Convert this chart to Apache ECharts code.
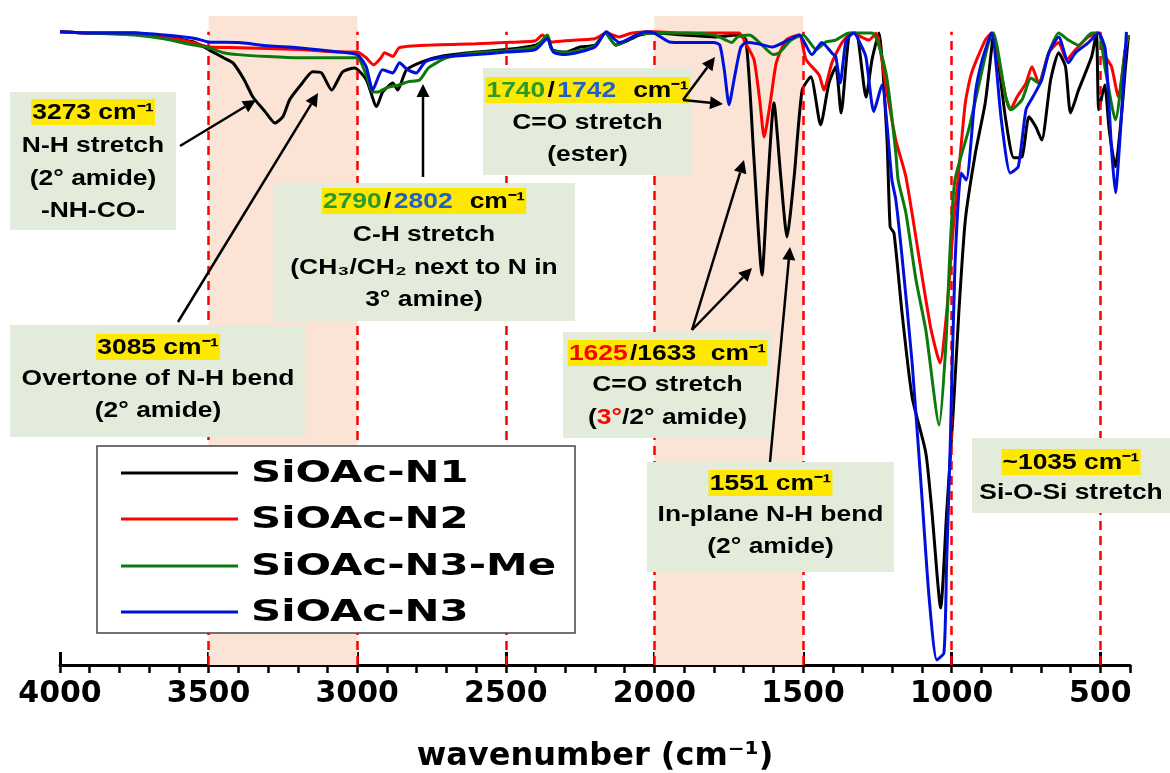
<!DOCTYPE html>
<html lang="en">
<head>
<meta charset="UTF-8">
<title>FTIR SiOAc</title>
<script src="https://cdn.jsdelivr.net/npm/echarts@6/dist/echarts.min.js"></script>
<style>
  html, body { margin: 0; padding: 0; background: #fff; }
  #main { width: 1170px; height: 773px; }
</style>
</head>
<body>
<div id="main"></div>
<script>
// series names / colours
var seriesNames = ['SiOAc-N1', 'SiOAc-N2', 'SiOAc-N3-Me', 'SiOAc-N3'];
var seriesColors = ['#000000', '#FF0000', '#0B7A0B', '#0010DC'];

// axis
var majorTicks = [4000, 3500, 3000, 2500, 2000, 1500, 1000, 500];
var shadedBands = [[3500, 3000], [2000, 1500]];
var dashedLines = [3500, 3000, 2500, 2000, 1500, 1000, 500];

// spectra: [wavenumber, transmittance %]
var n1 = [[4000,100],[3900,99.8],[3750,99.8],[3650,99.2],[3550,98.4],[3500,97.2],[3450,95.9],[3418,95.1],[3380,92.4],[3351,89.7],[3310,87.4],[3277,85.6],[3250,86.6],[3227,89.3],[3190,91.6],[3150,93.7],[3120,93.5],[3086,90.8],[3049,93.7],[3009,94.3],[2969,92.4],[2935,88.2],[2914,90.5],[2880,91.9],[2864,90.8],[2834,94.0],[2780,95.3],[2720,96.1],[2600,96.8],[2500,97.2],[2400,97.9],[2370,98.7],[2360,99.2],[2345,97.2],[2300,96.8],[2250,97.6],[2200,97.9],[2165,99.8],[2130,97.9],[2100,98.4],[2050,99.5],[2000,99.8],[1900,99.5],[1800,99.2],[1720,99.5],[1692,98.7],[1665,79.8],[1638,61.6],[1620,75.0],[1598,88.8],[1575,77.1],[1554,67.6],[1530,77.1],[1503,90.8],[1474,92.9],[1441,85.3],[1413,91.9],[1390,94.5],[1372,87.2],[1345,99.5],[1322,99.8],[1288,89.7],[1268,95.6],[1245,99.8],[1218,83.4],[1207,69.2],[1194,68.2],[1167,55.6],[1133,42.3],[1087,33.5],[1066,24.0],[1037,9.0],[1017,24.0],[995,39.8],[976,55.6],[954,70.3],[920,80.9],[887,88.8],[866,97.2],[860,99.8],[818,86.1],[791,80.1],[763,80.3],[740,86.6],[717,85.0],[697,82.9],[667,92.4],[640,96.7],[617,94.5],[600,87.2],[573,90.8],[529,96.1],[513,99.8],[505,87.7],[485,91.6],[470,84.5],[449,78.7],[430,86.1],[415,94.5],[405,99.5]];

var n2 = [[4000,100],[3900,99.8],[3750,99.8],[3650,99.2],[3550,98.3],[3500,97.6],[3400,97.5],[3200,97.2],[3050,96.8],[3000,96.8],[2970,95.9],[2945,94.8],[2920,95.9],[2908,96.7],[2880,96.1],[2858,97.5],[2757,97.9],[2600,98.1],[2511,98.3],[2400,98.6],[2377,99.5],[2345,98.4],[2300,98.6],[2200,98.9],[2162,99.8],[2120,99.2],[2075,99.8],[2000,100],[1900,99.8],[1800,99.8],[1715,99.8],[1690,97.9],[1665,95.6],[1645,88.9],[1631,83.4],[1610,88.9],[1590,95.1],[1557,98.7],[1513,99.5],[1490,95.6],[1446,93.2],[1430,90.8],[1403,95.1],[1369,98.3],[1335,99.8],[1278,98.7],[1255,99.8],[1221,91.3],[1188,82.9],[1154,77.1],[1100,61.5],[1069,52.9],[1039,47.7],[1017,55.6],[1000,66.0],[989,71.9],[976,78.0],[954,88.8],[933,93.5],[887,98.7],[866,99.8],[818,89.7],[803,87.7],[780,89.7],[750,91.9],[730,94.5],[707,91.9],[673,96.7],[640,98.3],[613,95.6],[583,97.2],[540,99.2],[506,99.8],[480,95.9],[462,94.5],[439,89.7],[416,97.2],[405,99.5]];

var n3me = [[4000,100],[3900,99.8],[3750,99.5],[3650,98.9],[3550,97.9],[3500,97.5],[3450,96.7],[3400,96.4],[3300,96.1],[3200,95.9],[3100,95.9],[3000,95.9],[2970,93.2],[2948,90.5],[2930,90.5],[2900,91.2],[2860,91.6],[2830,92.1],[2790,92.4],[2760,94.3],[2700,95.9],[2600,96.7],[2500,97.0],[2400,97.6],[2360,99.5],[2345,97.2],[2300,96.7],[2200,97.8],[2165,99.8],[2130,97.9],[2060,99.5],[2000,99.8],[1900,99.8],[1800,99.5],[1760,98.7],[1740,98.3],[1720,99.2],[1680,99.5],[1640,98.0],[1600,96.4],[1580,96.7],[1540,98.7],[1500,99.5],[1456,97.2],[1423,98.4],[1390,98.7],[1345,99.8],[1268,99.8],[1221,93.5],[1188,80.9],[1180,76.6],[1154,71.4],[1120,60.8],[1087,52.9],[1042,37.9],[1020,50.2],[1005,66.0],[989,76.6],[943,84.5],[910,91.3],[876,98.3],[860,99.8],[818,89.7],[800,87.7],[763,89.3],[733,92.7],[707,91.9],[673,96.7],[640,99.8],[607,98.7],[573,97.9],[529,99.8],[506,99.8],[483,94.0],[449,86.1],[416,97.2],[405,99.5]];

var n3 = [[4000,100],[3900,99.8],[3750,99.8],[3650,99.5],[3550,99.0],[3500,98.4],[3400,98.3],[3300,97.8],[3200,97.5],[3100,97.0],[3000,96.4],[2970,94.5],[2948,90.8],[2915,94.0],[2880,93.5],[2858,95.1],[2830,94.0],[2802,93.5],[2770,95.3],[2700,96.1],[2600,96.4],[2500,96.8],[2400,97.2],[2360,99.0],[2340,96.8],[2300,96.4],[2200,97.6],[2162,100],[2118,98.3],[2060,99.5],[2028,100],[2000,99.8],[1950,98.4],[1900,98.3],[1800,98.3],[1780,97.9],[1765,94.0],[1749,88.5],[1730,93.0],[1710,97.5],[1692,98.3],[1650,98.1],[1604,97.6],[1550,98.7],[1513,99.5],[1470,96.4],[1437,98.3],[1400,96.5],[1390,96.1],[1375,91.9],[1355,98.7],[1329,99.8],[1302,97.6],[1288,95.9],[1262,87.4],[1235,91.6],[1201,76.6],[1188,73.5],[1167,64.5],[1133,47.7],[1100,26.5],[1076,10.7],[1050,0.8],[1026,1.9],[1017,16.1],[1005,34.4],[989,63.0],[968,77.7],[951,76.6],[920,90.4],[897,95.6],[866,99.8],[833,86.1],[803,77.7],[776,78.7],[750,87.7],[727,89.7],[697,92.4],[673,96.7],[640,99.2],[607,95.1],[583,96.7],[540,98.3],[506,99.8],[483,97.2],[462,81.4],[449,74.6],[429,86.6],[412,100]];

var spectra = [n1, n2, n3me, n3];

var chart = echarts.init(document.getElementById('main'));

var minorTicks = [];
for (var w = 400; w <= 4000; w += 100) minorTicks.push(w);

// ---- annotation boxes (pixel layout) ----
var FONT = 'Liberation Sans';
var YEL = '#FFE800';
function hl(c) {
  return { backgroundColor: YEL, fill: c, fontSize: 22, fontWeight: 'bold', fontFamily: FONT, padding: [3, 1, 1, 1] };
}
var rich = {
  hl: hl('#000'), hg: hl('#2A9A2A'), hb: hl('#1F5FC8'), hr: hl('#FF0000'),
  r: { fill: '#FF0000', fontSize: 22, fontWeight: 'bold', fontFamily: FONT }
};

var boxes = [
  { x: 10, y: 92, w: 166, h: 138, ys: [112, 146, 179, 211],
    lines: ['{hl|3273 cm⁻¹}', 'N-H stretch', '(2° amide)', '-NH-CO-'] },
  { x: 10, y: 325, w: 296, h: 112, ys: [347, 379, 411],
    lines: ['{hl|3085 cm⁻¹}', 'Overtone of N-H bend', '(2° amide)'] },
  { x: 273, y: 183, w: 302, h: 138, ys: [201, 235, 268, 300],
    lines: ['{hg|2790}{hl|/}{hb|2802}{hl|  cm⁻¹}', 'C-H stretch', '(CH₃/CH₂ next to N in', '3° amine)'] },
  { x: 483, y: 68, w: 209, h: 107, ys: [90, 123, 155],
    lines: ['{hg|1740}{hl|/}{hb|1742}{hl|  cm⁻¹}', 'C=O stretch', '(ester)'] },
  { x: 563, y: 332, w: 209, h: 106, ys: [353, 385, 418],
    lines: ['{hr|1625}{hl|/1633  cm⁻¹}', 'C=O stretch', '({r|3°}/2° amide)'] },
  { x: 647, y: 462, w: 247, h: 110, ys: [483, 515, 547],
    lines: ['{hl|1551 cm⁻¹}', 'In-plane N-H bend', '(2° amide)'] },
  { x: 972, y: 438, w: 198, h: 75, ys: [462, 493],
    lines: ['{hl|~1035 cm⁻¹}', 'Si-O-Si stretch'] }
];

// arrows: [tailX, tailY, headX, headY]
var arrows = [
  [180, 146, 256, 100],
  [178, 322, 318, 93],
  [423, 177, 423, 84],
  [683, 100, 715, 57],
  [683, 100, 723, 104],
  [692, 330, 744, 160],
  [692, 330, 752, 268],
  [770, 462, 790, 247]
];

var graphics = [];
boxes.forEach(function (b) {
  graphics.push({ type: 'rect', silent: true, z: 100,
    shape: { x: b.x, y: b.y, width: b.w, height: b.h }, style: { fill: '#E3ECDA' } });
  b.lines.forEach(function (t, i) {
    graphics.push({ type: 'text', silent: true, z: 101, x: b.x + b.w / 2, y: b.ys[i], scaleX: 1.2,
      style: { text: t, rich: rich, fill: '#000', fontSize: 22, fontWeight: 'bold', fontFamily: FONT,
        align: 'center', textAlign: 'center', verticalAlign: 'middle', textVerticalAlign: 'middle' } });
  });
});
arrows.forEach(function (a) {
  var dx = a[2] - a[0], dy = a[3] - a[1], L = Math.sqrt(dx * dx + dy * dy);
  var ux = dx / L, uy = dy / L, hlen = 13, hw = 6.5;
  var bx = a[2] - ux * hlen, by = a[3] - uy * hlen;
  graphics.push({ type: 'line', silent: true, z: 102,
    shape: { x1: a[0], y1: a[1], x2: bx, y2: by }, style: { stroke: '#000', lineWidth: 2.5 } });
  graphics.push({ type: 'polygon', silent: true, z: 102,
    shape: { points: [[a[2], a[3]], [bx - uy * hw, by + ux * hw], [bx + uy * hw, by - ux * hw]] },
    style: { fill: '#000' } });
});

// legend (drawn by hand so the wide lettering fits)
graphics.push({ type: 'rect', silent: true, z: 100,
  shape: { x: 97, y: 446, width: 478, height: 187 }, style: { fill: '#fff', stroke: '#444', lineWidth: 1.5 } });
var legendY = [473, 519, 566, 612];
seriesNames.forEach(function (name, i) {
  graphics.push({ type: 'line', silent: true, z: 101,
    shape: { x1: 121, y1: legendY[i], x2: 238, y2: legendY[i] }, style: { stroke: seriesColors[i], lineWidth: 3 } });
  graphics.push({ type: 'text', silent: true, z: 101, x: 251, y: legendY[i] + 1, scaleX: 1.35,
    style: { text: name, fill: '#000', fontSize: 31, fontWeight: 'bold', fontFamily: 'DejaVu Sans',
      align: 'left', textAlign: 'left', verticalAlign: 'middle', textVerticalAlign: 'middle' } });
});

var series = [{
  type: 'line', data: [], z: 1, silent: true,
  markArea: { silent: true, itemStyle: { color: '#FBE4D5' },
    data: shadedBands.map(function (b) { return [{ xAxis: b[0] }, { xAxis: b[1] }]; }) },
  markLine: { silent: true, symbol: ['none', 'none'], label: { show: false },
    lineStyle: { color: '#FF0000', type: [9, 6], width: 2.5 },
    data: dashedLines.map(function (v) { return [{ coord: [v, 0] }, { coord: [v, 100] }]; }) }
}];
spectra.forEach(function (d, i) {
  series.push({
    name: seriesNames[i], type: 'line', data: d, showSymbol: false, smooth: 0.2,
    z: 3 + i, silent: true,
    lineStyle: { width: 3, color: seriesColors[i] }, itemStyle: { color: seriesColors[i] }
  });
});

var option = {
  animation: false,
  backgroundColor: '#fff',
  grid: { left: 60, right: 40, top: 16, bottom: 108, outerBoundsMode: 'none', containLabel: false },
  xAxis: [{
    type: 'value', inverse: true, min: 400, max: 4000, position: 'bottom',
    name: 'wavenumber (cm⁻¹)', nameLocation: 'middle', nameGap: 76,
    nameTextStyle: { fontSize: 32, fontWeight: 'bold', fontFamily: 'DejaVu Sans', color: '#000' },
    axisLine: { lineStyle: { color: '#000', width: 3 } },
    axisTick: { customValues: minorTicks, length: 8, lineStyle: { color: '#000', width: 2.5 } },
    axisLabel: { customValues: majorTicks, margin: 14, fontSize: 30, fontWeight: 'bold',
      fontFamily: 'DejaVu Sans', color: '#000',
      formatter: function (v) { return String(v); } },
    splitLine: { show: false }
  }, {
    type: 'value', inverse: true, min: 400, max: 4000, position: 'bottom', gridIndex: 0,
    axisLine: { show: false },
    axisTick: { customValues: majorTicks, inside: true, length: 13, lineStyle: { color: '#000', width: 3 } },
    axisLabel: { show: false },
    splitLine: { show: false }
  }],
  yAxis: { type: 'value', min: 0, max: 102.5, show: false },
  series: series,
  graphic: graphics
};

chart.setOption(option);
</script>
</body>
</html>
